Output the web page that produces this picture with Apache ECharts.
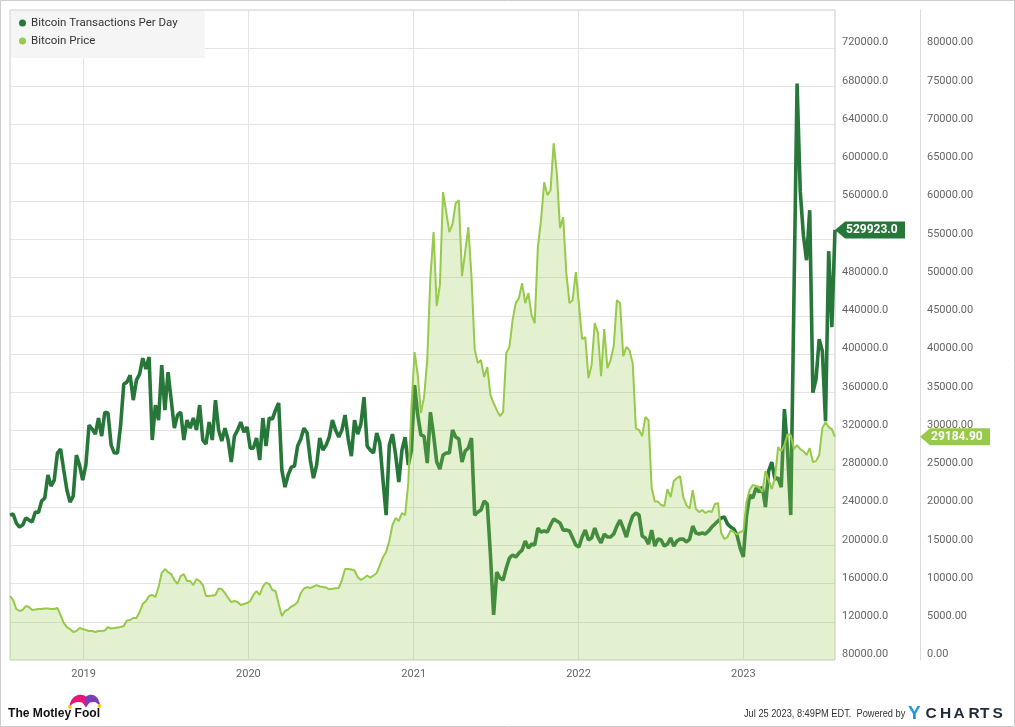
<!DOCTYPE html>
<html><head><meta charset="utf-8">
<script src="https://cdn.jsdelivr.net/npm/echarts@6/dist/echarts.min.js"></script>
<style>html,body{margin:0;padding:0;background:#fff}#c{width:1015px;height:727px}</style>
</head><body><div id="c"></div>
<script>
// ---------- data ----------
const seriesNames = ['Bitcoin Transactions Per Day', 'Bitcoin Price'];
const firstWeek = [2018, 6, 22];          // weekly observations start 2018-07-22 (UTC)
const axisStart = [2018, 6, 22];
const axisEnd = [2023, 6, 23];

const transactions = [
 231600,232700,223300,219100,221200,228500,226400,224300,234800,234200,
 246300,249400,273500,262000,268200,296500,300700,278700,257800,245200,
 251500,294400,283900,268200,283900,325800,321600,316300,333100,314200,
 339300,338300,304800,296500,296500,325800,368600,370700,378000,351900,
 372800,379100,395800,384300,396900,310100,346700,331000,388500,341400,
 381200,351900,322600,336200,339300,310100,331000,322600,333100,320500,
 346700,310100,305900,328900,310100,351900,320500,309000,322600,310100,
 287100,314200,320500,328900,318400,323700,301700,301700,312200,289200,
 333100,303800,333100,332000,341400,348800,278700,260900,273500,281800,
 282900,303800,311100,322600,317400,289200,270300,283900,312200,299600,
 304800,313200,331000,320500,313200,320500,336200,311100,293300,331000,
 316300,326800,355000,303800,299600,296500,317400,306900,268200,231600,
 304800,316300,294400,266100,299600,313200,283900,299600,367600,336200,
 315300,314200,286000,339300,315300,287100,279700,294400,296500,296500,
 320500,313200,311100,287100,298600,301700,312200,231600,234800,236900,
 246300,243100,189800,127100,172000,165800,163700,176200,186700,189800,
 187700,191900,195000,204400,197100,201300,200300,218000,213900,214900,
 213900,221200,227500,225400,223300,215900,215900,214900,207600,200300,
 198200,208600,215900,205500,207600,218000,208600,202400,211800,208600,
 208600,211800,220100,226400,218000,208600,221200,230600,233700,231600,
 209700,207600,201300,215900,199200,206500,205500,199200,201300,207600,
 199200,204400,206500,206500,203400,206500,220100,212800,211800,212800,
 211800,214900,219100,222200,225400,228500,229500,222200,219100,217000,
 210700,197100,188000,230600,252500,249400,259900,255700,260900,240000,
 277600,287100,269300,270300,260900,342500,298600,231600,456500,683100,
 570500,524400,498300,550600,359700,373900,415700,403100,329900,507700,
 428200,529923
];

const price = [
 8370,7840,6670,6410,6540,7060,6930,6540,6600,6670,
 6670,6730,6730,6670,6670,6800,5880,4840,4310,4050,
 3660,3790,4180,4050,3920,3790,3790,3660,3790,3790,
 3860,4310,4120,4180,4250,4310,4440,5160,5230,5490,
 5490,6280,7320,7710,8370,8500,8240,9540,11370,11900,
 11500,11240,10460,9940,10980,11240,10330,10330,9800,10590,
 10330,9800,8370,8370,8430,8500,9350,9240,8760,8110,
 7580,7710,7580,7190,7320,7450,7710,8500,9020,8500,
 9610,10110,9940,9150,9020,7320,5750,6410,6600,6990,
 7190,7580,8760,9350,9540,9410,9610,9800,9610,9540,
 9480,9240,9320,9370,9410,10460,11900,11900,11830,11700,
 10850,10460,10720,11050,10780,11050,11370,12420,13460,14120,
 15560,17650,18560,18170,19220,18950,23140,33070,40260,37260,
 32290,34380,39220,50070,55950,46280,49020,61180,58560,55950,
 56990,59740,60130,50200,53330,56600,50070,40650,38820,39220,
 36990,38300,34640,33600,32680,31900,32420,40130,40920,44450,
 46670,47320,49280,46670,47970,45100,44050,53990,57520,62480,
 60790,61440,67580,63660,56470,57910,50590,46670,47060,50720,
 46410,41960,42220,36860,38560,44050,42750,37120,43270,38170,
 39220,41050,47060,46670,39740,40920,40520,38820,30330,30070,
 29280,31770,31370,22480,20720,20720,20260,20130,22350,21310,
 23400,23790,24050,21310,20260,19800,22220,19740,19350,19610,
 19220,19480,19350,20390,20520,16600,15820,16080,16990,16730,
 16410,16730,16860,20650,22220,22880,22750,22620,21960,24710,
 23530,22350,23790,27840,27320,28110,29540,29410,27580,28110,
 27580,27320,26800,27710,25880,26010,26800,30330,31110,30460,
 30200,29184.9
];

const leftTickLabels = ['80000.00','120000.0','160000.0','200000.0','240000.0','280000.0','320000.0','360000.0','400000.0','440000.0','480000.0','520000.0','560000.0','600000.0','640000.0','680000.0','720000.0',''];
const rightTickLabels = ['0.00','5000.00','10000.00','15000.00','20000.00','25000.00','30000.00','35000.00','40000.00','45000.00','50000.00','55000.00','60000.00','65000.00','70000.00','75000.00','80000.00',''];
const leftAxis = { min: 80000, max: 760000, step: 40000 };
const rightAxis = { min: 0, max: 85000, step: 5000 };
const footerText = 'Jul 25 2023, 8:49PM EDT.  Powered by';

// ---------- build ----------
const DAY = 86400000;
const t0 = Date.UTC(firstWeek[0], firstWeek[1], firstWeek[2]);
const dates = transactions.map((_, i) => t0 + i * 7 * DAY);
const txData = transactions.map((v, i) => [dates[i], v]);
const pxData = price.map((v, i) => [dates[i], v]);

const DARK = '#28773a';
const LIGHT = '#97c94b';
const FONT = 'Roboto';

const chart = echarts.init(document.getElementById('c'), null, { renderer: 'canvas' });
chart.setOption({
  animation: false,
  useUTC: true,
  backgroundColor: '#ffffff',
  grid: { left: 10, top: 10, right: 180, bottom: 67, show: true, borderColor: '#cfcfcf', borderWidth: 1, outerBoundsMode: 'none' },
  legend: {
    left: 11, top: 11, orient: 'vertical', icon: 'circle', itemWidth: 7, itemHeight: 7, itemGap: 6,
    padding: [6, 27, 11, 8], backgroundColor: '#f5f5f5', borderRadius: 0,
    textStyle: { fontFamily: FONT, fontSize: 11.5, color: '#333' },
    data: seriesNames
  },
  xAxis: {
    type: 'time',
    min: Date.UTC(axisStart[0], axisStart[1], axisStart[2]),
    max: Date.UTC(axisEnd[0], axisEnd[1], axisEnd[2]),
    splitNumber: 5,
    minInterval: 365 * DAY,
    maxInterval: 366 * DAY,
    axisLine: { show: false }, axisTick: { show: false },
    splitLine: { show: true, lineStyle: { color: '#e3e3e3', width: 1 } },
    axisLabel: {
      margin: 9, fontFamily: FONT, fontSize: 11, color: '#666',
      showMinLabel: false, showMaxLabel: false,
      formatter: v => { const d = new Date(v); return (d.getUTCMonth() === 0 && d.getUTCDate() === 1) ? String(d.getUTCFullYear()) : ''; }
    }
  },
  yAxis: [
    {
      type: 'value', position: 'right', min: leftAxis.min, max: leftAxis.max, interval: leftAxis.step,
      axisLine: { show: false }, axisTick: { show: false },
      splitLine: { show: true, lineStyle: { color: '#e3e3e3', width: 1 } },
      axisLabel: {
        margin: 7, fontFamily: FONT, fontSize: 11, color: '#666', verticalAlign: 'bottom', align: 'left',
        formatter: v => leftTickLabels[Math.round((v - leftAxis.min) / leftAxis.step)] || ''
      }
    },
    {
      type: 'value', position: 'right', offset: 85, min: rightAxis.min, max: rightAxis.max, interval: rightAxis.step,
      axisLine: { show: true, lineStyle: { color: '#dcdcdc', width: 1 } }, axisTick: { show: false },
      splitLine: { show: false },
      axisLabel: {
        margin: 7, fontFamily: FONT, fontSize: 11, color: '#666', verticalAlign: 'bottom', align: 'left',
        formatter: v => rightTickLabels[Math.round((v - rightAxis.min) / rightAxis.step)] || ''
      }
    }
  ],
  series: [
    {
      name: seriesNames[0], type: 'line', yAxisIndex: 0, data: txData, symbol: 'none', showSymbol: false,
      color: DARK, itemStyle: { color: DARK }, lineStyle: { width: 3.6, color: DARK }, z: 2
    },
    {
      name: seriesNames[1], type: 'line', yAxisIndex: 1, data: pxData, symbol: 'none', showSymbol: false,
      color: LIGHT, itemStyle: { color: LIGHT }, lineStyle: { width: 2, color: LIGHT },
      areaStyle: { color: LIGHT, opacity: 0.26 }, z: 3
    }
  ]
});

// ---------- end-value tags & decorations ----------
function tag(x, y, text, color) {
  return [
    { type: 'polygon', silent: true, z: 100, shape: { points: [[x, y], [x + 10, y - 8.5], [x + 70, y - 8.5], [x + 70, y + 8.5], [x + 10, y + 8.5]] }, style: { fill: color } },
    { type: 'text', silent: true, z: 101, x: x + 11, y: y + 0.5, style: { text: text, fill: '#fff', font: 'bold 12px Roboto', verticalAlign: 'middle', align: 'left' } }
  ];
}
const lastIdx = transactions.length - 1;
const xEnd = chart.convertToPixel({ xAxisIndex: 0 }, dates[lastIdx]);
const yT = chart.convertToPixel({ yAxisIndex: 0 }, transactions[lastIdx]);
const yP = chart.convertToPixel({ yAxisIndex: 1 }, price[price.length - 1]);

const ychartsLetters = [['C', 925.5], ['H', 940], ['A', 953.5], ['R', 968.5], ['T', 980], ['S', 992.5]];
const graphics = [
  { type: 'rect', silent: true, shape: { x: 0.5, y: 0.5, width: 1014, height: 726 }, style: { fill: 'none', stroke: '#cccccc', lineWidth: 1 } }
].concat(
  tag(xEnd, yT, transactions[lastIdx].toFixed(1), DARK),
  tag(xEnd + 85, yP, price[price.length - 1].toFixed(2), LIGHT),
  [
    // Motley Fool jester hat (polygons approximating the two humps)
    { type: 'polygon', silent: true, shape: { points: [[69.5, 707], [70.5, 702], [73.5, 697.5], [78, 695], [82.5, 695], [86, 696.8], [86, 707], [82, 702.5], [77, 702], [72.5, 703.8]], smooth: 0.3 }, style: { fill: '#e6177a' } },
    { type: 'polygon', silent: true, shape: { points: [[86, 696.8], [90, 694.8], [94.5, 695.5], [98, 699], [100, 705.5], [95.5, 702.3], [90, 702.5], [86, 707]], smooth: 0.3 }, style: { fill: '#7a3fb8' } },
    { type: 'circle', silent: true, shape: { cx: 70, cy: 707, r: 1.9 }, style: { fill: '#f5c518' } },
    { type: 'circle', silent: true, shape: { cx: 99.5, cy: 705.8, r: 1.9 }, style: { fill: '#f5c518' } },
    { type: 'text', silent: true, x: 8, y: 713.5, scaleX: 0.93, style: { text: 'The Motley Fool', font: 'bold 13px "Liberation Sans"', fill: '#111', verticalAlign: 'middle' } },
    // footer
    { type: 'text', silent: true, x: 744, y: 714, scaleX: 0.84, style: { text: footerText, font: '11px "Liberation Sans"', fill: '#333', verticalAlign: 'middle' } },
    { type: 'text', silent: true, x: 908, y: 713.5, style: { text: 'Y', font: 'bold 19px "Liberation Sans"', fill: '#1b9ad9', verticalAlign: 'middle' } }
  ]
);
ychartsLetters.forEach(([ch, x]) => graphics.push({ type: 'text', silent: true, x: x, y: 713.5, style: { text: ch, font: 'bold 15.5px "Liberation Sans"', fill: '#1f2a36', verticalAlign: 'middle' } }));
chart.setOption({ graphic: { elements: graphics } });
</script>
</body></html>
